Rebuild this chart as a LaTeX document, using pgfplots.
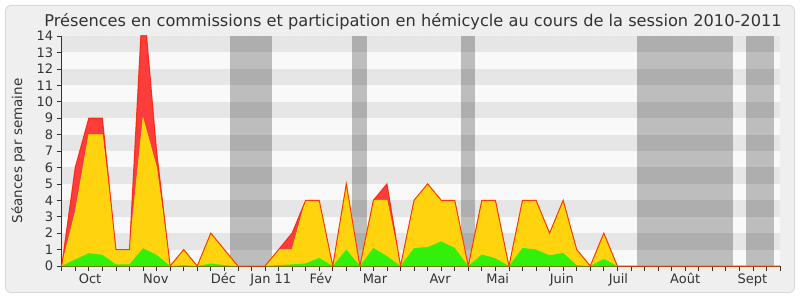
\documentclass[border=0pt]{standalone}
\usepackage{pgfplots}
\pgfplotsset{compat=1.18}
\usepackage{pgfplotstable}
\usetikzlibrary{backgrounds}
\usepackage{fontspec}
\setmainfont{DejaVu Sans}
\definecolor{framefill}{HTML}{EFEFEF}
\definecolor{framedraw}{HTML}{DADADA}
\definecolor{stripe}{HTML}{E6E6E6}
\definecolor{light}{HTML}{F9F9F9}
\definecolor{txt}{HTML}{333333}
\definecolor{redfill}{RGB}{255,60,60}
\definecolor{redline}{RGB}{255,30,0}
\definecolor{yelfill}{RGB}{255,212,14}
\definecolor{yelline}{RGB}{250,235,0}
\definecolor{grnfill}{RGB}{50,240,10}
\pgfplotstableread{
i red yellow green
0 0 0 0
1 6 3.3 0.4
2 9 8 0.78
3 9 8 0.68
4 1 1 0.1
5 1 1 0.1
6 16.5 9 1.08
7 7 6 0.68
8 0 0 0
9 1 1 0.05
10 0 0 0
11 2 2 0.15
12 1 1 0.05
13 0 0 0
14 0 0 0
15 0 0 0
16 1 1 0.05
17 2 1 0.1
18 4 4 0.15
19 4 4 0.5
20 0 0 0
21 5 5 1.0
22 0 0 0
23 4 4 1.1
24 5 4 0.6
25 0 0 0
26 4 4 1.1
27 5 5 1.15
28 4 4 1.5
29 4 4 1.1
30 0 0 0
31 4 4 0.7
32 4 4 0.47
33 0 0 0
34 4 4 1.1
35 4 4 1.0
36 2 2 0.65
37 4 4 0.8
38 1 1 0.05
39 0 0 0
40 2 2 0.43
41 0 0 0
42 0 0 0
43 0 0 0
44 0 0 0
45 0 0 0
46 0 0 0
47 0 0 0
48 0 0 0
49 0 0 0
50 0 0 0
51 0 0 0
52 0 0 0
53 0 0 0
}\datatable
\begin{document}
\begin{tikzpicture}[x=1pt,y=1pt]
\begin{axis}[
  scale only axis, width=718.3pt, height=230pt,
  xmin=0, xmax=53, ymin=0, ymax=14,
  axis background/.style={fill=light},
  axis x line*=bottom, axis y line*=left,
  x axis line style={-, black, line width=0.8pt},
  y axis line style={-, txt, line width=0.8pt},
  tick align=outside, major tick length=5pt,
  tick style={txt, line width=0.7pt},
  /pgf/number format/assume math mode=true,
  xtick={0,...,53}, xticklabel=\empty,
  extra x ticks={2.09,6.94,11.93,15.43,19.12,23.12,27.92,32.17,36.9,41.08,46.0,50.97},
  extra x tick labels={Oct,Nov,Déc,Jan 11,Fév,Mar,Avr,Mai,Juin,Juil,Août,Sept},
  extra x tick style={major tick length=0pt, tick style={draw=none},
    xticklabel style={anchor=base, yshift=-17pt}},
  ytick={0,...,14},
  ticklabel style={font=\fontsize{13}{15}\selectfont, text=txt},
  ylabel={Séances par semaine},
  ylabel style={font=\fontsize{13.5}{15}\selectfont, text=txt, at={(axis description cs:0,0.5)}, anchor=center, yshift=43.5pt},
  clip=true,
]
\coordinate (O) at (axis cs:0,0);
\fill[stripe] (axis cs:0,1) rectangle (axis cs:53,2);
\fill[stripe] (axis cs:0,3) rectangle (axis cs:53,4);
\fill[stripe] (axis cs:0,5) rectangle (axis cs:53,6);
\fill[stripe] (axis cs:0,7) rectangle (axis cs:53,8);
\fill[stripe] (axis cs:0,9) rectangle (axis cs:53,10);
\fill[stripe] (axis cs:0,11) rectangle (axis cs:53,12);
\fill[stripe] (axis cs:0,13) rectangle (axis cs:53,14);
\fill[black, opacity=0.24] (axis cs:12.42,0) rectangle (axis cs:15.49,14);
\fill[black, opacity=0.24] (axis cs:21.44,0) rectangle (axis cs:22.5,14);
\fill[black, opacity=0.24] (axis cs:29.46,0) rectangle (axis cs:30.5,14);
\fill[black, opacity=0.24] (axis cs:42.43,0) rectangle (axis cs:49.51,14);
\fill[black, opacity=0.24] (axis cs:50.49,0) rectangle (axis cs:52.56,14);
\addplot[draw=none, fill=redfill] table[x=i, y=red] {\datatable} \closedcycle;
\addplot[draw=yelline, line width=0.6pt, fill=yelfill] table[x=i, y=yellow] {\datatable} \closedcycle;
\addplot[draw=none, fill=grnfill] table[x=i, y=green] {\datatable} \closedcycle;
\addplot[draw=redline, line width=1pt, opacity=0.85] table[x=i, y=red] {\datatable};
\pgfplotsinvokeforeach{0,...,53}{\draw[txt, line width=0.8pt] (axis cs:#1,14) ++(0,0.8pt) -- ++(0,1.6pt);}
\end{axis}
\pgfresetboundingbox
\begin{scope}[shift={(O)}, xshift=-61.7pt, yshift=-34pt]
\path[use as bounding box] (0,0) rectangle (800,300);
\begin{scope}[on background layer]
\fill[white] (0,0) rectangle (800,300);
\draw[rounded corners=5pt, draw=framedraw, fill=framefill, line width=1pt] (5.5,7.5) rectangle (794.5,294.5);
\end{scope}
\node[anchor=base, text=txt, font=\fontsize{16.2}{19}\selectfont, inner sep=0pt] at (413,273.5) {Présences en commissions et participation en hémicycle au cours de la session 2010-2011};
\end{scope}
\end{tikzpicture}
\end{document}
